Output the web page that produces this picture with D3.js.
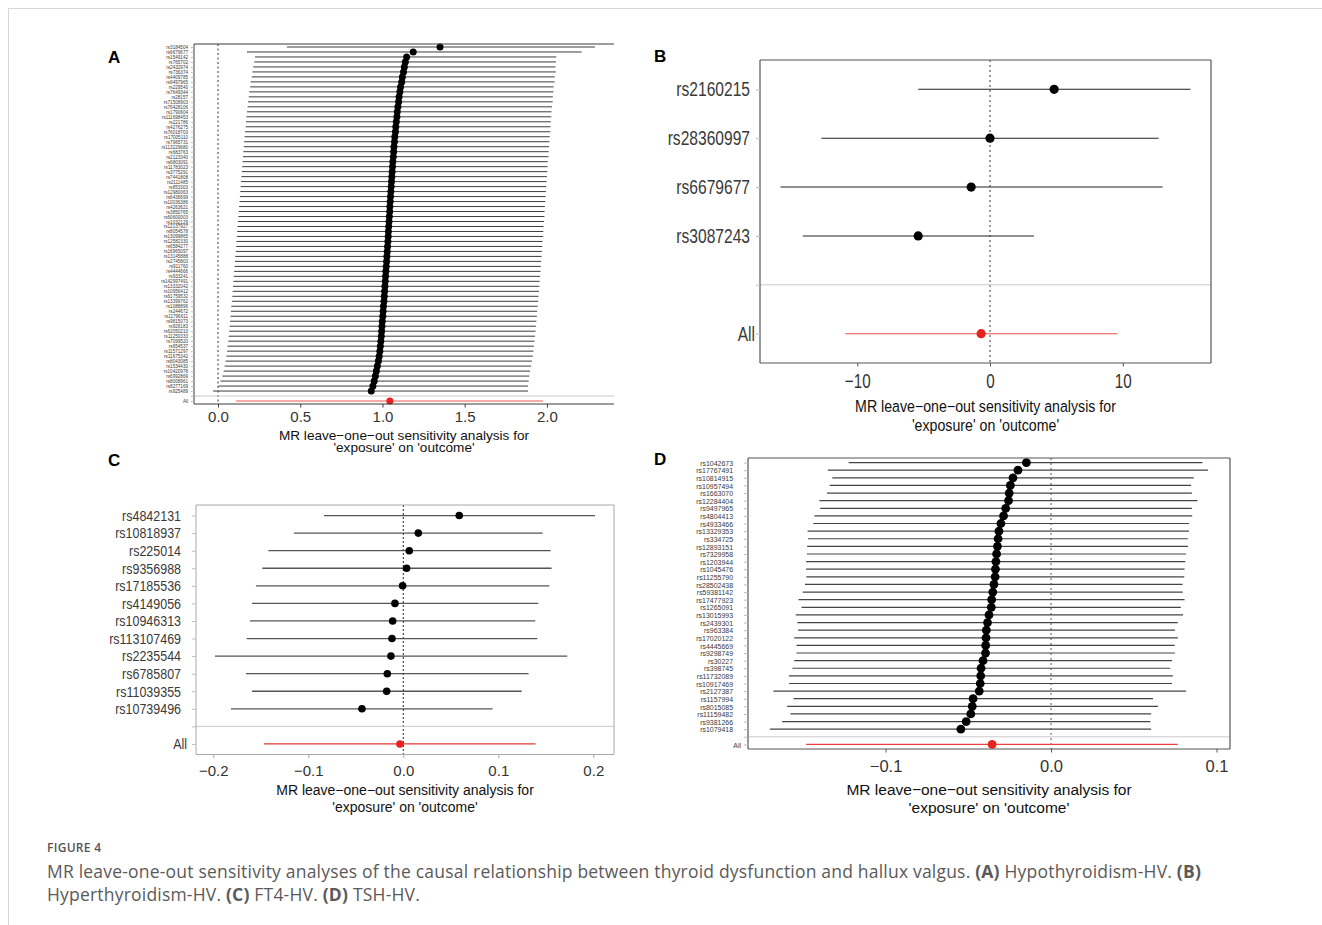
<!DOCTYPE html>
<html>
<head>
<meta charset="utf-8">
<script src="https://cdn.jsdelivr.net/npm/d3@7/dist/d3.min.js"></script>
<style>
  body { margin: 0; background: #fff; }
  svg { display: block; }
</style>
</head>
<body>
<script>
/*panel A: Hypothyroidism-HV (lo, est, hi per SNP, top row first)*/
const aSnps = ['rs3184504','rs6679677','rs1549142','rs765702','rs2432974','rs736374','rs4409785','rs9497965','rs229540','rs7649344',
  'rs28157','rs71508903','rs76428106','rs1790604','rs111698453','rs221786','rs4276275','rs76018703','rs17005110','rs7965731',
  'rs113229680','rs683763','rs2123340','rs6803091','rs11783023','rs3775291','rs7441808','rs2111485','rs853303','rs12980063',
  'rs6436699','rs10036386','rs4263621','rs3850765','rs60600003','rs1032129','rs12137927','rs8054578','rs13099865','rs12582330',
  'rs6584277','rs16965097','rs13145888','rs2745803','rs911760','rs4444666','rs933241','rs142997491','rs13332042','rs10956412',
  'rs61759532','rs13399762','rs1088896','rs244672','rs11796611','rs9815073','rs926183','rs62050210','rs11250333','rs7099520',
  'rs654537','rs11571297','rs11675342','rs8043085','rs1534430','rs10420978','rs6992869','rs8008961','rs8277169','rs925489']
const aEst = [1.350,1.187,1.147,1.139,1.133,1.128,1.121,1.117,1.110,1.106,
  1.101,1.098,1.094,1.090,1.088,1.084,1.081,1.079,1.075,1.073,
  1.070,1.068,1.066,1.063,1.061,1.059,1.057,1.055,1.053,1.051,
  1.049,1.047,1.045,1.044,1.042,1.040,1.038,1.036,1.035,1.033,
  1.031,1.029,1.027,1.025,1.023,1.021,1.019,1.017,1.015,1.013,
  1.011,1.009,1.006,1.004,1.002,0.999,0.997,0.995,0.993,0.990,
  0.987,0.984,0.980,0.975,0.969,0.963,0.957,0.950,0.942,0.932]
const aLo = [0.419,0.176,0.225,0.221,0.214,0.209,0.205,0.199,0.196,0.190,
  0.187,0.182,0.180,0.176,0.173,0.170,0.168,0.164,0.162,0.159,
  0.157,0.154,0.152,0.149,0.147,0.145,0.142,0.140,0.138,0.135,
  0.133,0.131,0.128,0.126,0.124,0.121,0.119,0.117,0.115,0.112,
  0.110,0.108,0.105,0.103,0.101,0.098,0.096,0.094,0.091,0.089,
  0.087,0.084,0.081,0.079,0.076,0.073,0.071,0.068,0.065,0.062,
  0.058,0.055,0.051,0.046,0.040,0.034,0.026,0.015,0.002,-0.030]
const aHi = [2.292,2.211,2.057,2.055,2.052,2.054,2.048,2.047,2.041,2.040,
  2.036,2.035,2.031,2.028,2.027,2.024,2.022,2.021,2.017,2.016,
  2.013,2.011,2.010,2.006,2.004,2.003,2.000,1.998,1.997,1.994,
  1.992,1.991,1.988,1.986,1.985,1.982,1.980,1.978,1.977,1.974,
  1.972,1.970,1.968,1.965,1.963,1.961,1.959,1.956,1.954,1.952,
  1.949,1.947,1.944,1.941,1.939,1.936,1.933,1.931,1.928,1.925,
  1.921,1.918,1.914,1.909,1.904,1.898,1.893,1.889,1.886,1.885]
const aAll = [0.109, 1.045, 1.976]

/*panel B: Hyperthyroidism-HV*/
const bSnps = ['rs2160215','rs28360997','rs6679677','rs3087243']
const bEst = [4.83, 0.0, -1.42, -5.41]
const bLo = [-5.4, -12.7, -15.78, -14.1]
const bHi = [15.1, 12.7, 13.0, 3.31]
const bAll = [-10.9, -0.67, 9.59]

/*panel C: FT4-HV*/
const cSnps = ['rs4842131','rs10818937','rs225014','rs9356988','rs17185536','rs4149056','rs10946313','rs113107469',
  'rs2235544','rs6785807','rs11039355','rs10739496']
const cEst = [0.0589,0.0158,0.0063,0.0035,-0.0007,-0.0088,-0.0112,-0.0119,-0.0130,-0.0168,-0.0175,-0.0435]
const cLo = [-0.0835,-0.1151,-0.1421,-0.1484,-0.1551,-0.1593,-0.1614,-0.1649,-0.1982,-0.1656,-0.1593,-0.1814]
const cHi = [0.2018,0.1467,0.1551,0.1561,0.1537,0.1421,0.1389,0.1411,0.1726,0.1319,0.1246,0.0940]
const cAll = [-0.1467, -0.0035, 0.1393]

/*panel D: TSH-HV*/
const dSnps = ['rs1042673','rs17767491','rs10814915','rs10957494','rs1663070','rs12284404','rs9497965','rs4804413','rs4933466',
  'rs13329353','rs334725','rs12893151','rs7329958','rs1203944','rs1045476','rs11255790','rs28502438','rs59381142','rs17477923',
  'rs1265091','rs13015993','rs2439301','rs963384','rs17020122','rs4445669','rs9298749','rs30227','rs398745','rs11732089',
  'rs10917469','rs2127387','rs1157994','rs8015085','rs11159482','rs9381266','rs1079418']
const dEst = [-0.0149,-0.0200,-0.0230,-0.0246,-0.0253,-0.0257,-0.0274,-0.0287,-0.0303,-0.0315,-0.0320,-0.0324,-0.0329,
  -0.0333,-0.0336,-0.0338,-0.0345,-0.0352,-0.0359,-0.0361,-0.0375,-0.0384,-0.0391,-0.0393,-0.0395,-0.0396,-0.0411,
  -0.0423,-0.0425,-0.0428,-0.0434,-0.0471,-0.0476,-0.0485,-0.0513,-0.0545]
const dLo = [-0.1223,-0.1349,-0.1322,-0.1338,-0.1354,-0.1400,-0.1395,-0.1430,-0.1437,-0.1471,-0.1469,-0.1474,-0.1476,
  -0.1480,-0.1481,-0.1479,-0.1487,-0.1501,-0.1526,-0.1508,-0.1543,-0.1533,-0.1529,-0.1552,-0.1538,-0.1539,-0.1552,
  -0.1563,-0.1584,-0.1583,-0.1678,-0.1556,-0.1595,-0.1575,-0.1625,-0.1699]
const dHi = [0.0915,0.0949,0.0862,0.0846,0.0851,0.0885,0.0851,0.0853,0.0834,0.0834,0.0827,0.0828,0.0816,
  0.0811,0.0807,0.0805,0.0795,0.0796,0.0807,0.0784,0.0798,0.0766,0.0749,0.0766,0.0747,0.0748,0.0731,
  0.0720,0.0736,0.0731,0.0816,0.0616,0.0646,0.0605,0.0600,0.0605]
const dAll = [-0.1480, -0.0356, 0.0766]

/*x axis ticks*/
const aTicks = [0, 0.5, 1, 1.5, 2]
const bTicks = [-10, 0, 10]
const cTicks = [-0.2, -0.1, 0, 0.1, 0.2]
const dTicks = [-0.1, 0, 0.1]

const titleLines = ["MR leave\u2212one\u2212out sensitivity analysis for", "'exposure' on 'outcome'"]

/*canvas*/
const width = 1322, height = 925
const FONT = "'Liberation Sans', Arial, sans-serif"
const svg = d3.select('body').append('svg').attr('width', width).attr('height', height)
svg.append('rect').attr('width', width).attr('height', height).attr('fill', '#fff')

/*figure box edges*/
svg.append('line').attr('x1', 8).attr('x2', width).attr('y1', 8.5).attr('y2', 8.5).attr('stroke', '#d6d6d6')
svg.append('line').attr('x1', 8.5).attr('x2', 8.5).attr('y1', 8).attr('y2', height).attr('stroke', '#d6d6d6')

/*one leave-one-out panel*/
function drawPanel(p) {
  const g = svg.append('g')
  const levels = p.snps.concat(['', 'All'])
  const y = d3.scalePoint().domain(levels).range([p.top, p.bottom]).padding(0.6)
  const lo = d3.min(p.lo.concat([p.all[0]])), hi = d3.max(p.hi.concat([p.all[2]]))
  const pad = (hi - lo) * 0.05
  const x = d3.scaleLinear().domain([lo - pad, hi + pad]).range([p.left, p.right])

  // dotted zero line
  g.append('line').attr('x1', x(0)).attr('x2', x(0)).attr('y1', p.top).attr('y2', p.bottom)
    .attr('stroke', p.zeroCol).attr('stroke-width', p.zeroW).attr('stroke-dasharray', p.dash)

  // intervals
  const rows = p.snps.map((s, i) => ({ snp: s, est: p.est[i], lo: p.lo[i], hi: p.hi[i] }))
  g.append('g').selectAll('line').data(rows).enter().append('line')
    .attr('x1', d => x(d.lo)).attr('x2', d => x(d.hi))
    .attr('y1', d => y(d.snp)).attr('y2', d => y(d.snp))
    .attr('stroke', p.lineCol).attr('stroke-width', p.lineW)
  g.append('line').attr('x1', x(p.all[0])).attr('x2', x(p.all[2]))
    .attr('y1', y('All')).attr('y2', y('All')).attr('stroke', p.redLine).attr('stroke-width', p.lineW)

  // points
  g.append('g').selectAll('circle').data(rows).enter().append('circle')
    .attr('cx', d => x(d.est)).attr('cy', d => y(d.snp)).attr('r', p.r).attr('fill', '#000')
  g.append('circle').attr('cx', x(p.all[1])).attr('cy', y('All')).attr('r', p.r).attr('fill', '#e8231f')

  // separator above All
  g.append('line').attr('x1', p.left).attr('x2', p.right).attr('y1', y('')).attr('y2', y(''))
    .attr('stroke', '#c9c9c9').attr('stroke-width', 1)

  // frame
  const fr = g.append('g').attr('stroke', p.frameCol).attr('stroke-width', p.frameW).attr('fill', 'none')
  fr.append('line').attr('x1', p.left).attr('x2', p.left).attr('y1', p.top).attr('y2', p.bottom)
  fr.append('line').attr('x1', p.left).attr('x2', p.right).attr('y1', p.top).attr('y2', p.top)
  fr.append('line').attr('x1', p.left).attr('x2', p.right).attr('y1', p.bottom).attr('y2', p.bottom)
  if (p.rightSide) fr.append('line').attr('x1', p.right).attr('x2', p.right).attr('y1', p.top).attr('y2', p.bottom)

  // x axis
  const xAxis = g.append('g').attr('transform', 'translate(0,' + p.bottom + ')')
    .call(d3.axisBottom(x).tickValues(p.ticks).tickFormat(p.fmt).tickSize(3.5).tickPadding(0))
  xAxis.select('.domain').remove()
  xAxis.selectAll('.tick line').attr('stroke', p.frameCol)
  xAxis.selectAll('.tick text')
    .attr('y', p.tickY - p.bottom).attr('dy', null).attr('dominant-baseline', 'central')
    .attr('transform', 'scale(' + p.tickSx + ',1)')
    .style('font-family', FONT).style('font-size', p.tickSize + 'px').attr('fill', '#333')

  // y axis labels
  const yAxis = g.append('g').attr('transform', 'translate(' + p.left + ',0)')
    .call(d3.axisLeft(y).tickSize(p.yTick).tickPadding(0))
  yAxis.select('.domain').remove()
  yAxis.selectAll('.tick line').attr('stroke', '#bdbdbd')
  yAxis.selectAll('.tick text')
    .attr('x', d => -(p.labOff - (d === 'All' ? p.allShift : 0)) / p.labSx).attr('dy', null)
    .attr('dominant-baseline', 'central')
    .attr('transform', 'scale(' + p.labSx + ',1)')
    .style('font-family', FONT).style('font-size', p.labSize + 'px').attr('fill', '#3a3a3a')

  // axis title
  const cx = (p.left + p.right) / 2
  titleLines.forEach((t, i) => {
    g.append('text').attr('transform', 'translate(' + cx + ',' + p.titleY[i] + ') scale(' + p.titleSx + ',1)')
      .attr('text-anchor', 'middle').attr('dominant-baseline', 'central')
      .style('font-family', FONT).style('font-size', p.titleSize + 'px').attr('fill', '#111').text(t)
  })

  // panel letter
  g.append('text').attr('x', p.letterX).attr('y', p.letterY)
    .style('font-family', FONT).style('font-size', '17px').style('font-weight', 'bold').text(p.letter)
}

const fmt1 = d3.format('.1f')
drawPanel({ snps: aSnps, est: aEst, lo: aLo, hi: aHi, all: aAll, ticks: aTicks, fmt: fmt1,
  left: 194, right: 614, top: 44, bottom: 404, rightSide: false,
  r: 3.5, lineW: 1, lineCol: '#3c3c3c', redLine: '#ec5a4f', frameCol: '#3a3a3a', frameW: 1,
  zeroCol: '#333', zeroW: 1, dash: '2,2.5',
  tickY: 416.5, tickSize: 15, tickSx: 1, labSize: 4.6, labSx: 1, labOff: 6, allShift: 0, yTick: 3,
  titleY: [435, 447.5], titleSize: 13.6, titleSx: 1, letter: 'A', letterX: 108, letterY: 63 })

drawPanel({ snps: bSnps, est: bEst, lo: bLo, hi: bHi, all: bAll, ticks: bTicks, fmt: d3.format('d'),
  left: 760, right: 1211, top: 60, bottom: 363, rightSide: true,
  r: 4.6, lineW: 1.1, lineCol: '#222', redLine: '#e84c4c', frameCol: '#555', frameW: 1.2,
  zeroCol: '#666', zeroW: 1.3, dash: '2,3',
  tickY: 381, tickSize: 20, tickSx: 0.76, labSize: 19.5, labSx: 0.8, labOff: 10, allShift: 5, yTick: 4,
  titleY: [406, 425.5], titleSize: 16.5, titleSx: 0.86, letter: 'B', letterX: 654, letterY: 62 })

drawPanel({ snps: cSnps, est: cEst, lo: cLo, hi: cHi, all: cAll, ticks: cTicks, fmt: fmt1,
  left: 196, right: 614, top: 505, bottom: 754.5, rightSide: true,
  r: 3.8, lineW: 1.3, lineCol: '#555', redLine: '#e53935', frameCol: '#a8a8a8', frameW: 1,
  zeroCol: '#222', zeroW: 1, dash: '2,2',
  tickY: 770, tickSize: 15, tickSx: 1, labSize: 14, labSx: 0.89, labOff: 15, allShift: 6, yTick: 4,
  titleY: [790, 806.5], titleSize: 14, titleSx: 1, letter: 'C', letterX: 108, letterY: 466 })

drawPanel({ snps: dSnps, est: dEst, lo: dLo, hi: dHi, all: dAll, ticks: dTicks, fmt: fmt1,
  left: 748, right: 1230, top: 458, bottom: 749, rightSide: true,
  r: 4.4, lineW: 1.2, lineCol: '#444', redLine: '#e84040', frameCol: '#555', frameW: 1.2,
  zeroCol: '#555', zeroW: 1, dash: '2,3',
  tickY: 766, tickSize: 16.5, tickSx: 1, labSize: 8, labSx: 0.87, labOff: 15, allShift: 8, yTick: 4,
  titleY: [789, 807.5], titleSize: 15.5, titleSx: 1, letter: 'D', letterX: 654, letterY: 465 })

/*caption*/
const CAP = "'Open Sans', 'Noto Sans', sans-serif"
svg.append('text').attr('x', 47).attr('y', 852).style('font-family', CAP).style('font-size', '12px')
  .style('font-weight', 600).style('letter-spacing', '0.3px').attr('fill', '#555').text('FIGURE 4')
const capLines = [
  [['MR leave-one-out sensitivity analyses of the causal relationship between thyroid dysfunction and hallux valgus. ', 400],
   ['(A)', 700], [' Hypothyroidism-HV. ', 400], ['(B)', 700]],
  [['Hyperthyroidism-HV. ', 400], ['(C)', 700], [' FT4-HV. ', 400], ['(D)', 700], [' TSH-HV.', 400]]
]
capLines.forEach((parts, i) => {
  const t = svg.append('text').attr('x', 47).attr('y', 878 + i * 23)
    .style('font-family', CAP).style('font-size', '17.5px').style('letter-spacing', '0.2px').attr('fill', '#5a5a5a')
  parts.forEach(pt => t.append('tspan').style('font-weight', pt[1]).text(pt[0]))
})
</script>
</body>
</html>
